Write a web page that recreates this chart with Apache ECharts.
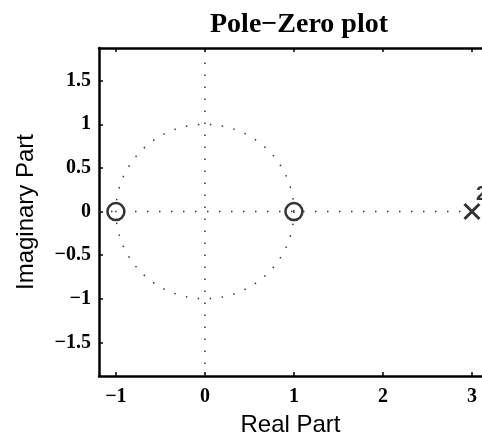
<!DOCTYPE html>
<html><head><meta charset="utf-8">
<script src="https://cdn.jsdelivr.net/npm/echarts@6/dist/echarts.min.js"></script>
<style>html,body{margin:0;padding:0;background:#fff}#c{width:482px;height:442px}</style>
</head><body><div id="c"></div>
<script>
// Data
const zerosRe = [-1, 1];
const zerosIm = [0, 0];
const polesRe = [3];
const polesIm = [0];
const poleMultiplicity = ['2'];
const xTicks = [-1, 0, 1, 2, 3];
const yTicks = [-1.5, -1, -0.5, 0, 0.5, 1, 1.5];
const xLim = [-1.19, 3.113];
const yLim = [-1.886, 1.875];

// unit circle reference (geometry, not data)
const circle = [];
for (let i = 0; i <= 360; i += 2) {
  const t = i * Math.PI / 180;
  circle.push([Math.cos(t), Math.sin(t)]);
}
const fmt = v => String(v).replace('-', '\u2212');
const dotted = {type: [1.5, 10.5], width: 1.5, color: '#333'};

const chart = echarts.init(document.getElementById('c'), null, {renderer: 'canvas'});
chart.setOption({
  animation: false,
  backgroundColor: '#fff',
  title: {
    text: 'Pole\u2212Zero plot', left: 294, top: 6, textAlign: 'center',
    textStyle: {fontFamily: 'Liberation Serif', fontWeight: 'bold', fontSize: 28, color: '#000'}
  },
  grid: {left: 99, top: 48, bottom: 63, right: 0, containLabel: false},
  xAxis: [{
    type: 'value', min: xLim[0], max: xLim[1], position: 'bottom',
    name: 'Real Part', nameLocation: 'middle', nameGap: 37,
    nameTextStyle: {fontFamily: 'Liberation Sans', fontSize: 24, color: '#000', verticalAlign: 'top'},
    axisLine: {show: true, onZero: false, lineStyle: {color: '#000', width: 2.5}},
    axisTick: {show: true, inside: true, length: 4, customValues: xTicks, lineStyle: {color: '#000', width: 1.5}},
    axisLabel: {customValues: xTicks, formatter: fmt, margin: 11, fontFamily: 'Liberation Serif', fontWeight: 'bold', fontSize: 20, color: '#000'},
    splitLine: {show: false}
  }, {
    type: 'value', min: xLim[0], max: xLim[1], position: 'top',
    axisLine: {show: true, onZero: false, lineStyle: {color: '#000', width: 2.5}},
    axisTick: {show: true, inside: true, length: 4, customValues: xTicks, lineStyle: {color: '#000', width: 1.5}},
    axisLabel: {show: false}, splitLine: {show: false}
  }],
  yAxis: [{
    type: 'value', min: yLim[0], max: yLim[1], position: 'left',
    name: 'Imaginary Part', nameLocation: 'middle', nameGap: 61, nameRotate: 90,
    nameTextStyle: {fontFamily: 'Liberation Sans', fontSize: 24, color: '#000'},
    axisLine: {show: true, onZero: false, lineStyle: {color: '#000', width: 2.5}},
    axisTick: {show: true, inside: true, length: 4, customValues: yTicks, lineStyle: {color: '#000', width: 1.5}},
    axisLabel: {customValues: yTicks, formatter: fmt, margin: 8, fontFamily: 'Liberation Serif', fontWeight: 'bold', fontSize: 20, color: '#000'},
    splitLine: {show: false}
  }],
  series: [
    {type: 'line', data: circle, showSymbol: false, lineStyle: dotted, silent: true},
    {type: 'line', data: [[xLim[0], 0], [xLim[1], 0]], showSymbol: false, lineStyle: dotted, silent: true},
    {type: 'line', data: [[0, yLim[0]], [0, yLim[1]]], showSymbol: false, lineStyle: dotted, silent: true},
    {type: 'scatter', data: zerosRe.map((r, i) => [r, zerosIm[i]]), symbol: 'circle', symbolSize: 17,
     itemStyle: {color: 'rgba(0,0,0,0)', borderColor: '#000', borderWidth: 2.5}},
    {type: 'scatter', data: polesRe.map((r, i) => [r, polesIm[i], poleMultiplicity[i]]),
     symbol: 'path://M0,0L10,10M10,0L0,10', symbolSize: 15,
     itemStyle: {color: 'rgba(0,0,0,0)', borderColor: '#000', borderWidth: 3},
     label: {show: true, formatter: p => p.data[2], position: [13, -18], fontFamily: 'Liberation Sans', fontWeight: 'bold', fontSize: 20, color: '#000'}}
  ]
});
</script></body></html>
